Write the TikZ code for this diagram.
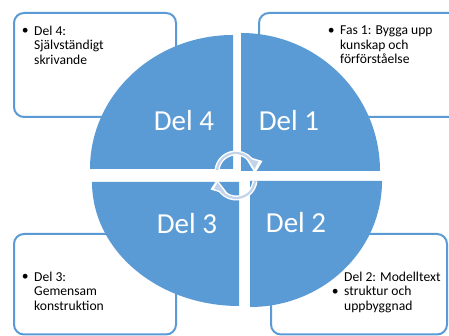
\documentclass[tikz,border=0pt]{standalone}
\usepackage{fontspec}
\setmainfont{Carlito}
\definecolor{sliceblue}{HTML}{5B9BD5}
\definecolor{arrowlight}{HTML}{C3D3EA}
\tikzset{
  x=1pt,y=1pt,
  infobox/.style={draw=sliceblue,line width=2pt,rounded corners=10pt,fill=white},
  slice/.style={fill=sliceblue,draw=none},
  small/.style={inner sep=0pt,align=left,anchor=north west,text=black,font=\fontsize{13.6}{14.6}\selectfont},
  big/.style={inner sep=0pt,anchor=base,text=white,font=\fontsize{29}{30}\selectfont},
  arrowhalo/.style={draw=white,line width=5pt},
  arrowcore/.style={draw=arrowlight,line width=2.2pt},
}
\newcommand{\bul}{\llap{\raisebox{0.3pt}{\textbullet}\hspace{5.5pt}}}
\begin{document}
\begin{tikzpicture}
\useasboundingbox (0,0) rectangle (449,336);
\fill[white] (0,0) rectangle (449,336);
\begin{scope}
\clip (0,0) rectangle (449,336);
\draw[infobox] (14,219) rectangle (176,323);
\draw[infobox] (259,219) rectangle (480,323);
\draw[infobox] (14,1.5) rectangle (176,102);
\draw[infobox] (271,1.5) rectangle (447,102);
\end{scope}
% slices
\fill[slice] (233,167) -- (90,167) arc[start angle=180,end angle=90,x radius=143,y radius=134] -- cycle;
\fill[slice] (241,165) -- (241,303) arc[start angle=90,end angle=0,x radius=139,y radius=138] -- cycle;
\fill[slice] (250,155) -- (382,155) arc[start angle=0,end angle=-90,x radius=132,y radius=126] -- cycle;
\fill[slice] (239,154) -- (239,30) arc[start angle=270,end angle=180,x radius=147,y radius=124] -- cycle;
% texts
\node[small] (t4) at (34,310.5) {\bul Del 4:\\Självständigt\\skrivande};
\node[small] (t1) at (340,310.5) {\bul Fas 1: Bygga upp\\kunskap och\\förförståelse};
\node[small] (t3) at (34,64.5) {\bul Del 3:\\Gemensam\\konstruktion};
\node[small] (t2) at (344,64.5) {Del 2: Modelltext\\\bul struktur och\\uppbyggnad};
\node[big] (d4) at (184,205.5) {Del 4};
\node[big] (d1) at (289,205.5) {Del 1};
\node[big] (d3) at (187,102) {Del 3};
\node[big] (d2) at (296,103) {Del 2};
% cycle arrows
\draw[arrowhalo] (217,166) arc[start angle=174,end angle=28,radius=19];
\fill[white] (262.5,175) -- (244,180.5) -- (255,162.5) -- cycle;
\draw[arrowcore] (217,166) arc[start angle=174,end angle=30,radius=19];
\fill[arrowlight] (258.5,174.5) -- (248,177.5) -- (254.5,167) -- cycle;
\draw[arrowhalo] (255,155) arc[start angle=-6,end angle=-152,radius=19];
\fill[white] (210.5,146.5) -- (229,141) -- (217,156.5) -- cycle;
\draw[arrowcore] (255,155) arc[start angle=-6,end angle=-150,radius=19];
\fill[arrowlight] (214,147) -- (225,143.5) -- (217.5,153.5) -- cycle;
\end{tikzpicture}
\end{document}
